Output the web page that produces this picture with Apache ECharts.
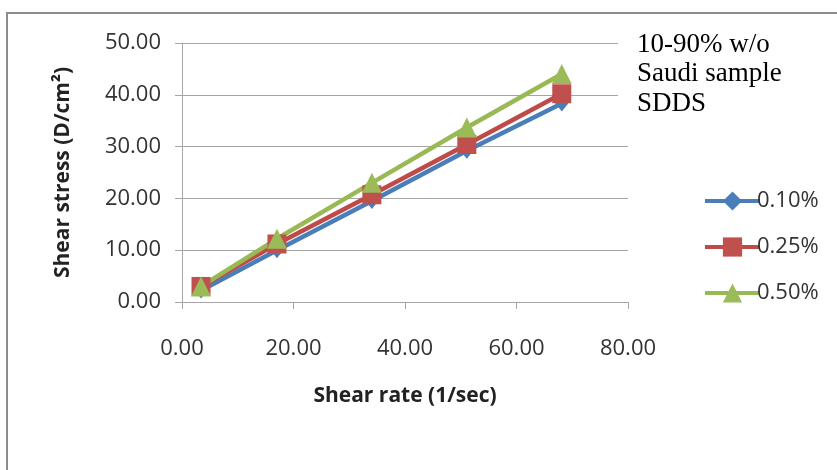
<!DOCTYPE html>
<html>
<head>
<meta charset="utf-8">
<script src="https://cdn.jsdelivr.net/npm/echarts@6/dist/echarts.min.js"></script>
<style>
  html, body { margin: 0; padding: 0; background: #fff; }
  #chart { width: 837px; height: 470px; }
</style>
</head>
<body>
<div id="chart"></div>
<script>
// Shear rate (1/sec) for each viscometer reading
const shearRate = [3.41, 17.03, 34.06, 51.09, 68.12];
// Shear stress (D/cm²) per concentration
const stress010 = [2.2, 10.0, 19.5, 29.2, 38.3];
const stress025 = [3.0, 11.2, 20.7, 30.4, 40.2];
const stress050 = [3.0, 12.2, 23.0, 33.7, 44.0];
const seriesNames = ['0.10%', '0.25%', '0.50%'];
const noteLines = ['10-90% w/o', 'Saudi sample', 'SDDS'];

const pairs = ys => shearRate.map((x, i) => [x, ys[i]]);
const tickFont = '"Open Sans", sans-serif';

const chart = echarts.init(document.getElementById('chart'), null, { renderer: 'canvas' });

chart.setOption({
  animation: false,
  backgroundColor: '#fff',
  grid: { left: 182, right: 209, top: 43, bottom: 168, containLabel: false },
  xAxis: {
    type: 'value', min: 0, max: 80, interval: 20,
    name: 'Shear rate (1/sec)', nameLocation: 'middle', nameGap: 84,
    nameTextStyle: { fontFamily: tickFont, fontWeight: 'bold', fontSize: 21, color: '#222' },
    axisLine: { show: true, lineStyle: { color: '#a6a6a6', width: 1 } },
    axisTick: { show: true, length: 7, lineStyle: { color: '#a6a6a6' } },
    axisLabel: { formatter: v => v.toFixed(2), fontFamily: tickFont, fontSize: 22, color: '#333', margin: 36 },
    splitLine: { show: false }
  },
  yAxis: {
    type: 'value', min: 0, max: 50, interval: 10,
    name: 'Shear stress (D/cm²)', nameLocation: 'middle', nameGap: 108, nameRotate: 90,
    nameTextStyle: { fontFamily: tickFont, fontWeight: 'bold', fontSize: 21, color: '#222' },
    axisLine: { show: true, lineStyle: { color: '#a6a6a6', width: 1 } },
    axisTick: { show: true, length: 7, lineStyle: { color: '#a6a6a6' } },
    axisLabel: { formatter: v => v.toFixed(2), fontFamily: tickFont, fontSize: 22, color: '#333', margin: 21 },
    splitLine: { show: true, lineStyle: { color: '#a6a6a6', width: 1 } }
  },
  legend: {
    orient: 'vertical', left: 698, top: 185, itemGap: 24,
    itemWidth: 55, itemHeight: 24,
    lineStyle: { width: 4 },
    textStyle: { fontFamily: tickFont, fontSize: 22, color: '#333', padding: [0, 0, 0, -8] },
    data: seriesNames
  },
  series: [
    {
      name: seriesNames[0], type: 'line', data: pairs(stress010),
      symbol: 'diamond', symbolSize: [13, 16],
      lineStyle: { color: '#4a7ebb', width: 4.5 }, itemStyle: { color: '#4a7ebb' }
    },
    {
      name: seriesNames[1], type: 'line', data: pairs(stress025),
      symbol: 'rect', symbolSize: 19,
      lineStyle: { color: '#be4b48', width: 4.5 }, itemStyle: { color: '#c0504d' }
    },
    {
      name: seriesNames[2], type: 'line', data: pairs(stress050),
      symbol: 'triangle', symbolSize: 20,
      lineStyle: { color: '#98b954', width: 4.5 }, itemStyle: { color: '#9bbb59' }
    }
  ],
  graphic: [
    // outer chart frame
    {
      type: 'rect', z: 0, silent: true,
      shape: { x: 7, y: 13, width: 900, height: 600 },
      style: { fill: 'none', stroke: '#8c8c8c', lineWidth: 2 }
    },
    // note box in the upper right
    {
      type: 'rect', z: 50, silent: true,
      shape: { x: 618, y: 22, width: 215, height: 100 },
      style: { fill: '#fff' }
    },
    {
      type: 'text', z: 51, silent: true, left: 637, top: 30,
      style: {
        text: noteLines.join('\n'), fill: '#000',
        font: '27px "Liberation Serif", "Times New Roman", serif', lineHeight: 29.5
      }
    }
  ]
});
</script>
</body>
</html>
